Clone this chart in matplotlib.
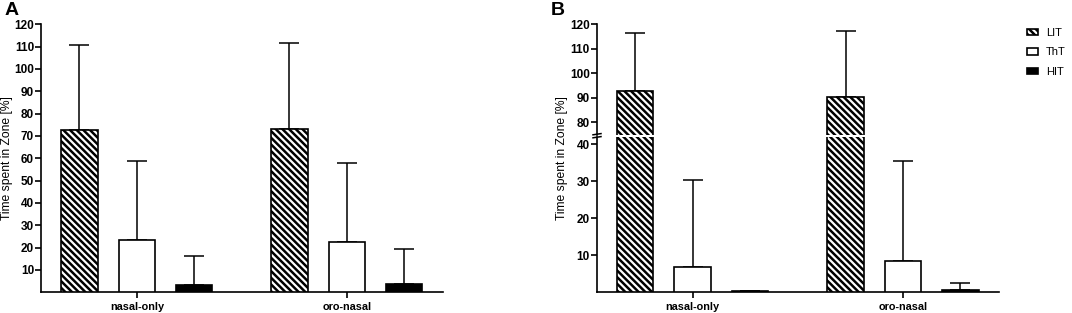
import matplotlib
matplotlib.use('Agg')
import matplotlib.pyplot as plt
from matplotlib.patches import Patch
from matplotlib.lines import Line2D
import numpy as np

plt.rcParams['font.family'] = ['Liberation Sans', 'DejaVu Sans']
plt.rcParams['hatch.linewidth'] = 1.8

groups = ['nasal-only', 'oro-nasal']
series = ['LIT', 'ThT', 'HIT']

# panel A: mean and upper SD
a_lit = [72.5, 73.2]
a_tht = [23.3, 22.4]
a_hit = [3.4, 3.9]
a_lit_sd = [38.3, 38.3]
a_tht_sd = [35.7, 35.3]
a_hit_sd = [12.8, 15.6]

# panel B
b_lit = [92.9, 90.3]
b_tht = [6.8, 8.5]
b_hit = [0.4, 0.5]
b_lit_sd = [23.4, 26.8]
b_tht_sd = [23.5, 26.9]
b_hit_sd = [0.0, 1.9]

BS = chr(92)  # backslash hatch
styles = {'LIT': dict(facecolor='white', hatch=BS * 5),
          'ThT': dict(facecolor='white', hatch=None),
          'HIT': dict(facecolor='black', hatch=None)}
offsets = [-0.273, 0.0, 0.273]
width = 0.174
lw = 1.2

W, H = 1072, 313
fig = plt.figure(figsize=(W / 100, H / 100), dpi=100)


def px(x0, y0, x1, y1):
    # pixel box (from top-left) -> figure rect
    return [x0 / W, 1 - y1 / H, (x1 - x0) / W, (y1 - y0) / H]


def draw_bars(ax, means, sds):
    x = np.arange(len(groups))
    for name, off, m, s in zip(series, offsets, means, sds):
        st = styles[name]
        ax.bar(x + off, m, width, facecolor=st['facecolor'], hatch=st['hatch'],
               edgecolor='black', linewidth=lw, zorder=3)
        ax.errorbar(x + off, m, yerr=[np.zeros(len(s)), s], fmt='none',
                    ecolor='black', elinewidth=1.1, capsize=7, capthick=1.1, zorder=2)


def style_ax(ax):
    for sp in ['top', 'right']:
        ax.spines[sp].set_visible(False)
    for sp in ['left', 'bottom']:
        ax.spines[sp].set_linewidth(lw)
    ax.tick_params(axis='y', direction='out', length=4, width=lw, pad=1, labelsize=8.5)
    ax.tick_params(axis='x', direction='out', length=4, width=lw, pad=3, labelsize=7.8)
    for t in ax.get_yticklabels() + ax.get_xticklabels():
        t.set_fontweight('bold')
    ax.set_xlim(-0.456, 1.458)


# ---- panel A
axA = fig.add_axes(px(41, 24.3, 443, 292.3))
draw_bars(axA, [a_lit, a_tht, a_hit], [a_lit_sd, a_tht_sd, a_hit_sd])
axA.set_ylim(0, 120)
axA.set_yticks(np.arange(10, 121, 10))
axA.set_xticks(range(len(groups)))
axA.set_xticklabels(groups)
style_ax(axA)
fig.text(7 / W, 1 - 158 / H, 'Time spent in Zone [%]', rotation=90,
         ha='center', va='center', fontsize=8.7)
fig.text(5 / W, 1 - 2 / H, 'A', fontsize=14, fontweight='bold', va='top', ha='left')

# ---- panel B (broken axis)
axBt = fig.add_axes(px(596.7, 24.3, 999.3, 134.7))
axBb = fig.add_axes(px(596.7, 136.7, 999.3, 292.3))
for ax in (axBt, axBb):
    draw_bars(ax, [b_lit, b_tht, b_hit], [b_lit_sd, b_tht_sd, b_hit_sd])
axBt.set_ylim(75, 120)
axBt.set_yticks(np.arange(80, 121, 10))
axBb.set_ylim(0, 42)
axBb.set_yticks(np.arange(10, 41, 10))
axBb.set_xticks(range(len(groups)))
axBb.set_xticklabels(groups)
style_ax(axBt)
style_ax(axBb)
axBt.spines['bottom'].set_visible(False)
axBt.set_xticks([])

# break marks on the y axis
for yb in (134.2, 137.2):
    fig.add_artist(Line2D([593 / W, 601 / W], [1 - (yb + 0.6) / H, 1 - (yb - 0.6) / H],
                          color='black', lw=1.1))

fig.text(561.7 / W, 1 - 158 / H, 'Time spent in Zone [%]', rotation=90,
         ha='center', va='center', fontsize=8.7)
fig.text(551 / W, 1 - 2 / H, 'B', fontsize=14, fontweight='bold', va='top', ha='left')

handles = [Patch(facecolor=styles[n]['facecolor'], hatch=styles[n]['hatch'],
                 edgecolor='black', linewidth=lw) for n in series]
fig.legend(handles, series, loc='upper left', bbox_to_anchor=(1027 / W, 1 - 28 / H),
           frameon=False, fontsize=8, handlelength=1.0, handleheight=0.55,
           handletextpad=0.7, labelspacing=0.85, borderpad=0, borderaxespad=0)

fig.savefig('out.png', dpi=100)
